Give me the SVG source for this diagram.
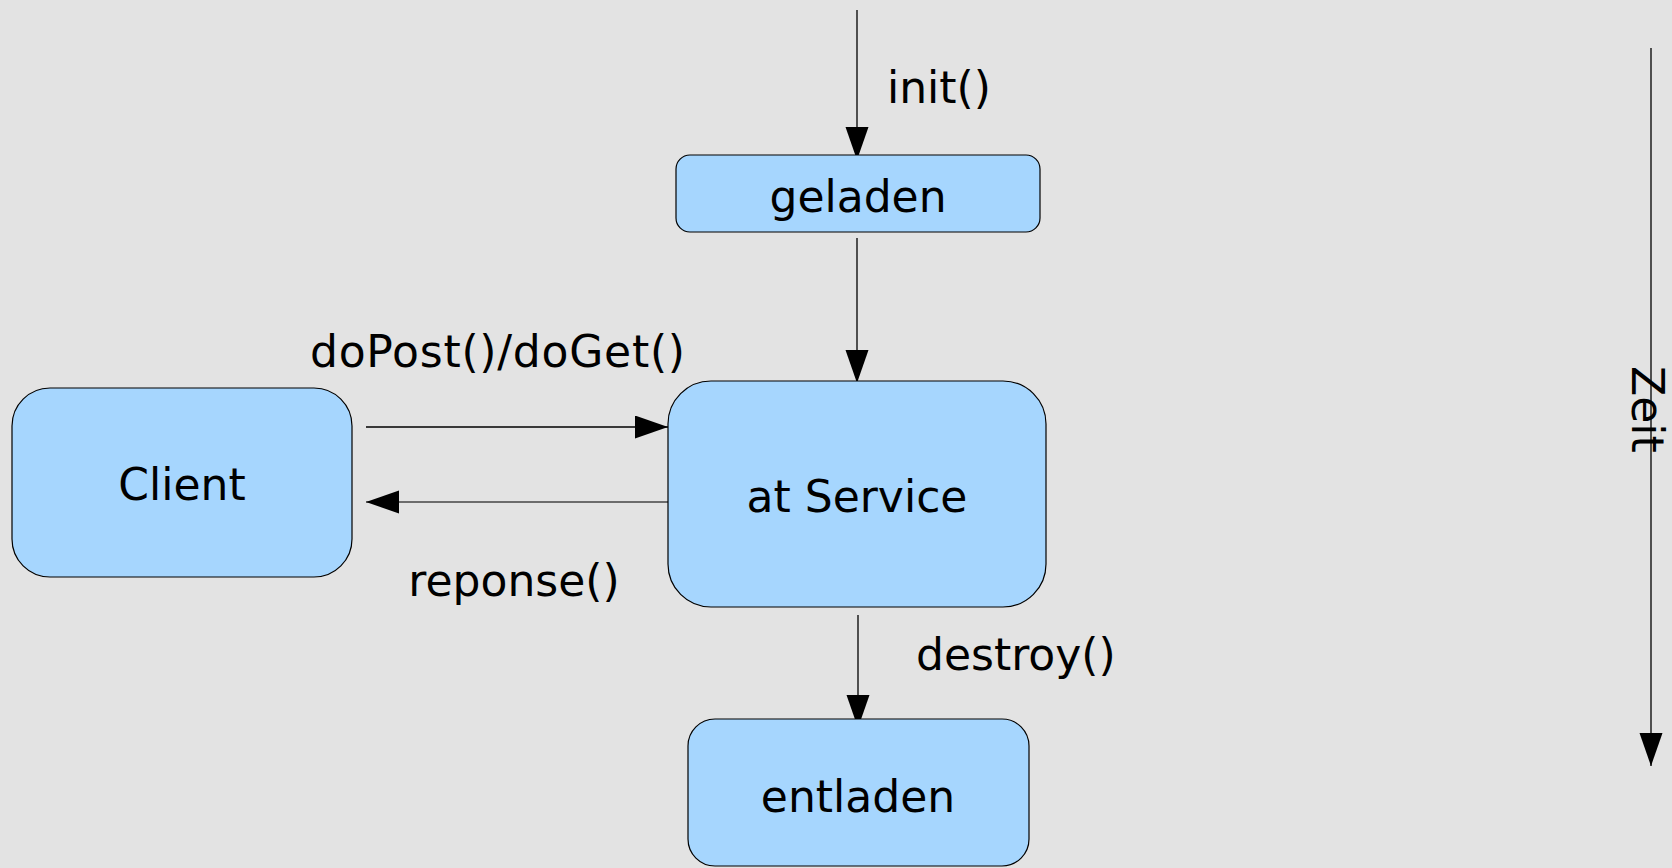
<svg xmlns="http://www.w3.org/2000/svg" width="1672" height="868" viewBox="0 0 1672 868">
<style>
.node{fill:#a6d6fe;stroke:#000;stroke-width:1.2}
.lbl{font-family:"DejaVu Sans",sans-serif;font-size:44px;fill:#000}
.c{text-anchor:middle}
.edge{stroke:#000;stroke-width:1.3;fill:none}
</style>
<defs>
<marker id="arr" markerUnits="userSpaceOnUse" markerWidth="34" markerHeight="24" refX="33" refY="11.5" orient="auto" viewBox="0 0 34 24">
<path d="M0,0 L33,11.5 L0,23 Z" fill="#000"/>
</marker>
</defs>
<rect width="1672" height="868" fill="#e3e3e3"/>
<g id="connectors">
<line class="edge" x1="857" y1="10" x2="857" y2="160" marker-end="url(#arr)"/>
<line class="edge" x1="857" y1="238" x2="857" y2="383" marker-end="url(#arr)"/>
<line class="edge" x1="366" y1="427" x2="668" y2="427" marker-end="url(#arr)"/>
<line class="edge" x1="668" y1="502" x2="366" y2="502" marker-end="url(#arr)" style="stroke:#444"/>
<line class="edge" x1="858" y1="615" x2="858" y2="728" marker-end="url(#arr)"/>
<line class="edge" x1="1651" y1="48" x2="1651" y2="766" marker-end="url(#arr)"/>
<text class="lbl" x="887" y="103">init()</text>
<text class="lbl" x="310" y="367" textLength="375" lengthAdjust="spacing">doPost()/doGet()</text>
<text class="lbl c" x="514" y="596">reponse()</text>
<text class="lbl" x="916" y="670">destroy()</text>
<text class="lbl" transform="translate(1632,366) rotate(90)">Zeit</text>
</g>
<g id="geladen">
<rect class="node" x="676" y="155" width="364" height="77" rx="14"/>
<text class="lbl c" x="858" y="212">geladen</text>
</g>
<g id="client">
<rect class="node" x="12" y="388" width="340" height="189" rx="38"/>
<text class="lbl c" x="182" y="500">Client</text>
</g>
<g id="service">
<rect class="node" x="668" y="381" width="378" height="226" rx="43"/>
<text class="lbl c" x="857" y="512">at Service</text>
</g>
<g id="entladen">
<rect class="node" x="688" y="719" width="341" height="147" rx="27"/>
<text class="lbl c" x="858" y="812">entladen</text>
</g>
</svg>
